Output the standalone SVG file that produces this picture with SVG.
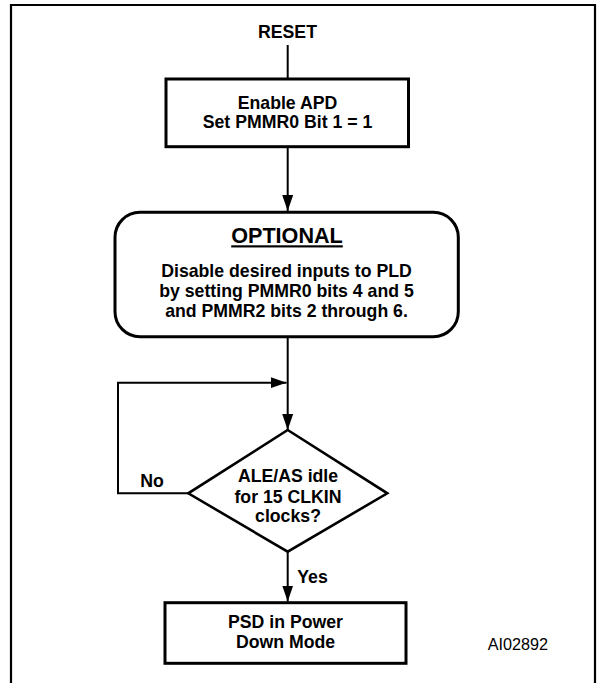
<svg xmlns="http://www.w3.org/2000/svg" width="600" height="683" viewBox="0 0 600 683">
  <style>
    .t { font-family: "Liberation Sans", Arial, sans-serif; font-weight: bold; font-size: 17.7px; fill: #000; text-anchor: middle; }
    .box { fill: #fff; stroke: #000; stroke-width: 3; }
    .conn { fill: none; stroke: #000; stroke-width: 2; }
    .id { font-family: "Liberation Sans", Arial, sans-serif; font-size: 16.2px; fill: #000; }
  </style>
  <defs>
    <marker id="arrow" markerUnits="userSpaceOnUse" markerWidth="16" markerHeight="11" refX="16" refY="5.5" orient="auto">
      <path d="M0,0 L16,5.5 L0,11 z" fill="#000"/>
    </marker>
  </defs>
  <rect x="0" y="0" width="600" height="683" fill="#fff"/>
  <!-- frame -->
  <path d="M11,690 V5 H595 V690" fill="none" stroke="#000" stroke-width="2.2"/>

  <g id="connectors">
    <path class="conn" d="M287.7,45 V79"/>
    <path class="conn" d="M287.7,148 V211" marker-end="url(#arrow)"/>
    <path class="conn" d="M287.7,338 V430" marker-end="url(#arrow)"/>
    <path class="conn" d="M189,493.3 H118 V382.7 H286.5" marker-end="url(#arrow)"/>
    <path class="conn" d="M287.7,551.7 V601.5" marker-end="url(#arrow)"/>
    <text class="t" x="152" y="487.3">No</text>
    <text class="t" x="312.5" y="582.7">Yes</text>
  </g>

  <g id="reset">
    <text class="t" x="287.5" y="38.3">RESET</text>
  </g>

  <g id="enable-apd">
    <rect class="box" x="166" y="79" width="242.5" height="67.7"/>
    <text class="t" x="287.5" y="109">Enable APD</text>
    <text class="t" x="287.5" y="128.3">Set PMMR0 Bit 1 = 1</text>
  </g>

  <g id="optional">
    <rect class="box" x="115" y="212.3" width="343.3" height="124.4" rx="25" ry="25"/>
    <text class="t" x="287" y="243.3" style="font-size:21.6px" text-decoration="underline">OPTIONAL</text>
    <text class="t" x="286.5" y="277.3">Disable desired inputs to PLD</text>
    <text class="t" x="286.5" y="296.8">by setting PMMR0 bits 4 and 5</text>
    <text class="t" x="286.5" y="316.5">and PMMR2 bits 2 through 6.</text>
  </g>

  <g id="decision">
    <polygon points="287.7,430 387.3,493.3 287.7,551.7 188.3,493.3" fill="#fff" stroke="#000" stroke-width="2.6" stroke-linejoin="miter"/>
    <text class="t" x="288" y="482.3">ALE/AS idle</text>
    <text class="t" x="288" y="502.5">for 15 CLKIN</text>
    <text class="t" x="288" y="521.7">clocks?</text>
  </g>

  <g id="power-down">
    <rect class="box" x="165" y="602.7" width="241" height="60.6"/>
    <text class="t" x="285.5" y="628.3">PSD in Power</text>
    <text class="t" x="285.5" y="648.3">Down Mode</text>
  </g>

  <text class="id" x="487.7" y="650">AI02892</text>
</svg>
